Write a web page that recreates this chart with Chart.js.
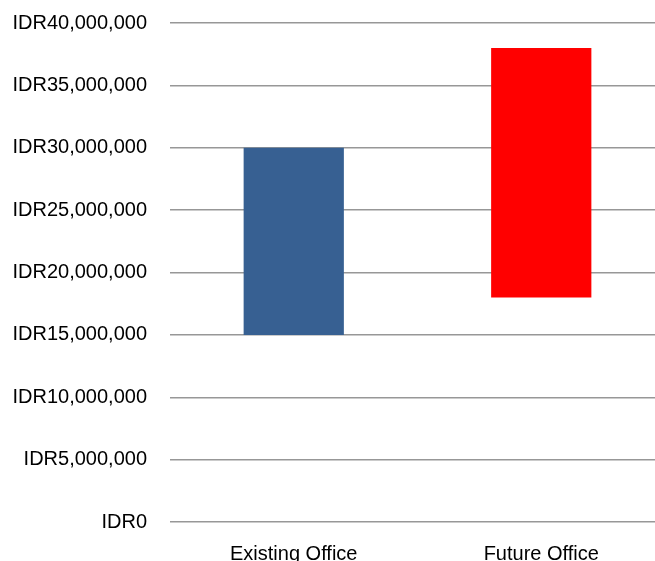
<!DOCTYPE html>
<html>
<head>
<meta charset="utf-8">
<style>
  html, body { margin: 0; padding: 0; background: #fff; overflow: hidden; }
  #wrap { width: 665px; height: 590px; margin-top: -12px; }
</style>
<script src="https://cdn.jsdelivr.net/npm/chart.js@4/dist/chart.umd.min.js"></script>
</head>
<body>
<div id="wrap"><canvas id="c" width="665" height="590"></canvas></div>
<script>
// Office cost ranges (IDR): each bar spans from low to high
const categories = ['Existing Office', 'Future Office'];
const lowValues = [15000000, 18000000];
const highValues = [30000000, 38000000];
const barColors = ['#376092', '#ff0000'];
const yTicks = [0, 5000000, 10000000, 15000000, 20000000, 25000000, 30000000, 35000000, 40000000];

const fmt = v => 'IDR' + v.toLocaleString('en-US');

new Chart(document.getElementById('c'), {
  type: 'bar',
  data: {
    labels: categories,
    datasets: [{
      data: categories.map((_, i) => [lowValues[i], highValues[i]]),
      backgroundColor: barColors,
      borderWidth: 0,
      barPercentage: 1,
      categoryPercentage: 0.405
    }]
  },
  options: {
    responsive: false,
    animation: false,
    layout: { padding: { top: 10, left: 10, right: 0, bottom: 0 } },
    plugins: { legend: { display: false }, tooltip: { enabled: false } },
    scales: {
      x: {
        grid: { display: false },
        border: { display: false },
        ticks: {
          color: '#000',
          padding: 12,
          font: { family: '"Liberation Sans", Arial, sans-serif', size: 20 }
        }
      },
      y: {
        min: 0,
        max: 40000000,
        afterBuildTicks: axis => { axis.ticks = yTicks.map(v => ({ value: v })); },
        afterFit: axis => { axis.width = 160; },
        grid: { color: '#979797', lineWidth: 1.4, drawTicks: false },
        border: { display: false },
        ticks: {
          color: '#000',
          padding: 23,
          font: { family: '"Liberation Sans", Arial, sans-serif', size: 20 },
          callback: v => fmt(v)
        }
      }
    }
  }
});
</script>
</body>
</html>
